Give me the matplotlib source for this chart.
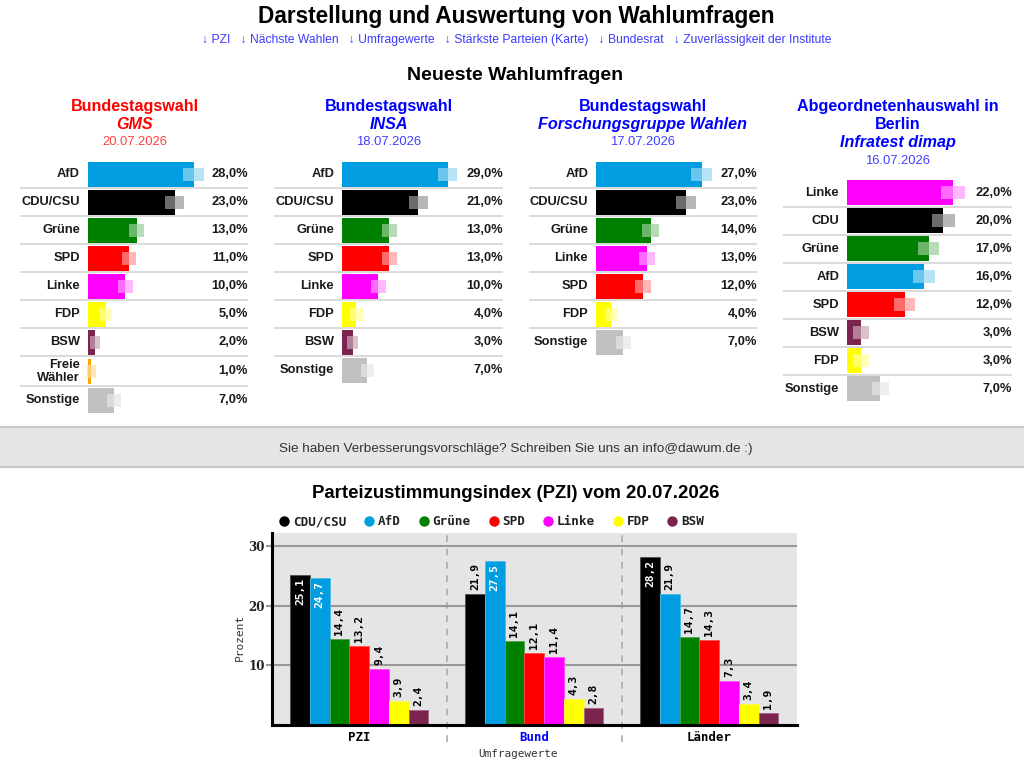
import numpy as np
import matplotlib
matplotlib.use('Agg')
import matplotlib.pyplot as plt
from matplotlib.colors import to_rgb
from matplotlib.lines import Line2D
from matplotlib.transforms import blended_transform_factory

# ---- data ----
party_colors = {
    'AfD': '#009ee0', 'CDU/CSU': '#000000', 'CDU': '#000000', 'Grüne': '#008000',
    'SPD': '#ff0000', 'Linke': '#ff00ff', 'FDP': '#ffff00', 'BSW': '#7b2450',
    'Freie\nWähler': '#ffa500', 'Sonstige': '#c0c0c0',
}

gms_parties = ['AfD', 'CDU/CSU', 'Grüne', 'SPD', 'Linke', 'FDP', 'BSW', 'Freie\nWähler', 'Sonstige']
gms_values = [28, 23, 13, 11, 10, 5, 2, 1, 7]
gms_margin = [2.8, 2.5, 2.0, 1.9, 2.0, 1.6, 1.4, 1.2, 1.8]

insa_parties = ['AfD', 'CDU/CSU', 'Grüne', 'SPD', 'Linke', 'FDP', 'BSW', 'Sonstige']
insa_values = [29, 21, 13, 13, 10, 4, 3, 7]
insa_margin = [2.6, 2.6, 2.0, 2.0, 2.0, 1.7, 1.5, 1.8]

fgw_parties = ['AfD', 'CDU/CSU', 'Grüne', 'Linke', 'SPD', 'FDP', 'Sonstige']
fgw_values = [27, 23, 14, 13, 12, 4, 7]
fgw_margin = [2.7, 2.6, 2.2, 2.0, 2.1, 1.7, 1.9]

berlin_parties = ['Linke', 'CDU', 'Grüne', 'AfD', 'SPD', 'BSW', 'FDP', 'Sonstige']
berlin_values = [22, 20, 17, 16, 12, 3, 3, 7]
berlin_margin = [2.5, 2.4, 2.25, 2.25, 2.1, 1.6, 1.6, 1.85]

pzi_groups = ['PZI', 'Bund', 'Länder']
pzi_parties = ['CDU/CSU', 'AfD', 'Grüne', 'SPD', 'Linke', 'FDP', 'BSW']
pzi_values = [
    [25.1, 21.9, 28.2],
    [24.7, 27.5, 21.9],
    [14.4, 14.1, 14.7],
    [13.2, 12.1, 14.3],
    [9.4, 11.4, 7.3],
    [3.9, 4.3, 3.4],
    [2.4, 2.8, 1.9],
]

links = ['PZI', 'Nächste Wahlen', 'Umfragewerte', 'Stärkste Parteien (Karte)',
         'Bundesrat', 'Zuverlässigkeit der Institute']

# ---- page geometry (pixels) ----
W, H = 1024, 766
SANS = ['Liberation Sans', 'DejaVu Sans']
MONO = ['DejaVu Sans Mono', 'DejaVu Sans']
SERIF = ['DejaVu Serif', 'DejaVu Sans']
ROW = 28
BAR = 25
GHOST = 13
MAXBAR = 106

fig = plt.figure(figsize=(W / 100, H / 100), dpi=100)
fig.patch.set_facecolor('white')


def px_axes(x0, y0, x1, y1):
    return fig.add_axes([x0 / W, 1 - y1 / H, (x1 - x0) / W, (y1 - y0) / H])


def ftext(x, y, s, **kw):
    kw.setdefault('family', SANS)
    return fig.text(x / W, 1 - y / H, s, **kw)


def lighten(c, f):
    r = np.array(to_rgb(c))
    return tuple(r * (1 - f) + f)


# background layer for the gray band
bg = fig.add_axes([0, 0, 1, 1], zorder=-5)
bg.set_xlim(0, W)
bg.set_ylim(H, 0)
bg.axis('off')
bg.axhspan(426.7, 466.7, color='#e6e6e6', lw=0)
bg.axhline(426.7, color='#c8c8c8', lw=1.6)
bg.axhline(466.7, color='#c8c8c8', lw=1.6)

# header
ftext(516, 23, 'Darstellung und Auswertung von Wahlumfragen', ha='center', va='baseline',
      fontsize=16.3, fontweight='bold', color='black')
ftext(517, 43, '   '.join('\u2193 ' + s for s in links), ha='center', va='baseline',
      fontsize=8.7, color='#3b3bff')
ftext(515.5, 80, 'Neueste Wahlumfragen', ha='center', va='baseline',
      fontsize=14, fontweight='bold', color='black')


def poll_panel(x0, xbar, x1, ytop, parties, values, margin, cx, title, color, datecolor):
    hts = np.array([1.07 if '\n' in p else 1.0 for p in parties])
    tops = np.concatenate([[0], np.cumsum(hts)[:-1]])
    centers = tops + hts / 2
    total = hts.sum()
    ax = px_axes(x0, ytop, x1, ytop + total * ROW)
    scale = MAXBAR / max(values)
    ax.set_xlim(-(xbar - x0) / scale, (x1 - xbar) / scale)
    ax.set_ylim(total, 0)
    ax.axis('off')
    cols = [party_colors[p] for p in parties]
    vals = np.array(values, float)
    mar = np.array(margin, float)
    ax.barh(centers, vals, height=BAR / ROW, color=cols, lw=0)
    ax.barh(centers, 2 * mar, left=vals - mar, height=GHOST / ROW,
            color=[lighten(c, 0.6) for c in cols], alpha=0.7, lw=0)
    for t in tops[1:]:
        ax.axhline(t, color='#dadada', lw=1.4)
    tr = blended_transform_factory(ax.transAxes, ax.transData)
    for p, v, c in zip(parties, values, centers):
        ax.annotate(p, (0, c), xytext=(-7.5, 0), textcoords='offset pixels',
                    ha='right', va='center', fontsize=9.3, fontweight='bold',
                    family=SANS, color='#1a1a1a', linespacing=1.05)
        ax.text(1.0, c, f'{v:.1f}%'.replace('.', ','), transform=tr,
                ha='right', va='center', fontsize=9.3, fontweight='bold',
                family=SANS, color='#1a1a1a')
    # titles
    for (s, y, style) in title:
        if style == 'bold':
            ftext(cx, y, s, ha='center', va='baseline', fontsize=11.6,
                  fontweight='bold', color=color)
        elif style == 'italic':
            ftext(cx, y, s, ha='center', va='baseline', fontsize=11.6,
                  fontweight='bold', style='italic', color=color)
        else:
            ftext(cx, y, s, ha='center', va='baseline', fontsize=9.4,
                  color=datecolor)


RED, BLUE = '#ff0000', '#0000ff'
poll_panel(20, 87.5, 248, 160.3, gms_parties, gms_values, gms_margin, 135,
           [('Bundestagswahl', 110.7, 'bold'), ('GMS', 129.3, 'italic'),
            ('20.07.2026', 145.3, 'date')], RED, '#ff4040')
poll_panel(274, 341.7, 503, 160.3, insa_parties, insa_values, insa_margin, 389,
           [('Bundestagswahl', 110.7, 'bold'), ('INSA', 129.3, 'italic'),
            ('18.07.2026', 145.3, 'date')], BLUE, '#4040ff')
poll_panel(529, 595.7, 757, 160.3, fgw_parties, fgw_values, fgw_margin, 643,
           [('Bundestagswahl', 110.7, 'bold'), ('Forschungsgruppe Wahlen', 129.3, 'italic'),
            ('17.07.2026', 145.3, 'date')], BLUE, '#4040ff')
poll_panel(783, 846.7, 1012, 178.7, berlin_parties, berlin_values, berlin_margin, 897.5,
           [('Abgeordnetenhauswahl in', 110.7, 'bold'), ('Berlin', 129, 'bold'),
            ('Infratest dimap', 147.5, 'italic'), ('16.07.2026', 164, 'date')],
           BLUE, '#4040ff')

# band text
ftext(515.7, 451.7, 'Sie haben Verbesserungsvorschläge? Schreiben Sie uns an info@dawum.de :)',
      ha='center', va='baseline', fontsize=9.7, color='#333333')

# ---- PZI chart ----
ftext(515.5, 498.3, 'Parteizustimmungsindex (PZI) vom 20.07.2026', ha='center',
      va='baseline', fontsize=13.4, fontweight='bold', color='black')

ax = px_axes(271.7, 533.3, 796.7, 724.5)
ax.set_facecolor('#e5e5e5')
ax.set_xlim(-0.5, 2.5)
ax.set_ylim(0, 32.2)
ax.set_axisbelow(True)
ax.yaxis.grid(True, color='#999999', lw=1.5)
ax.set_yticks([10, 20, 30])
ax.tick_params(axis='y', length=4.5, width=1.5, color='#999999', pad=0.5,
               labelsize=8.6, labelcolor='#222222')
for lab in ax.get_yticklabels():
    lab.set_family(SERIF)
    lab.set_fontweight('bold')
ax.set_xticks(range(len(pzi_groups)))
ax.set_xticklabels(pzi_groups, family=MONO, fontweight='bold', fontsize=8.9)
ax.tick_params(axis='x', length=0, pad=5)
ax.get_xticklabels()[1].set_color('#0000ff')
for s in ['top', 'right']:
    ax.spines[s].set_visible(False)
for s in ['left', 'bottom']:
    ax.spines[s].set_linewidth(2.2)
    ax.spines[s].set_color('black')

bw = 0.79 / len(pzi_parties)
x = np.arange(len(pzi_groups))
for i, (p, vals) in enumerate(zip(pzi_parties, pzi_values)):
    xs = x - 0.395 + bw * (i + 0.5)
    ax.bar(xs, vals, width=bw, color=party_colors[p],
           edgecolor=lighten(party_colors[p], 0.3), lw=0.6)
    for xi, v in zip(xs, vals):
        lab = f'{v:.1f}'.replace('.', ',')
        if v > 23:
            ax.annotate(lab, (xi, v), xytext=(0, -3), textcoords='offset pixels',
                        rotation=90, ha='center', va='top', color='white',
                        family=MONO, fontweight='bold', fontsize=8.1)
        else:
            ax.annotate(lab, (xi, v), xytext=(0, 4), textcoords='offset pixels',
                        rotation=90, ha='center', va='bottom', color='black',
                        family=MONO, fontweight='bold', fontsize=8.1)

for xd in [0.5, 1.5]:
    ax.axvline(xd, ymin=-0.09, ymax=1, color='#aaaaaa', lw=1.2,
               ls=(0, (4, 4)), clip_on=False, zorder=0.5)

ftext(518, 754, 'Umfragewerte', ha='center', va='center', family=MONO,
      fontsize=7.9, color='#333333')
ftext(240, 637.3, 'Prozent', ha='center', va='center', family=MONO,
      fontsize=8, color='#333333', rotation=90)

handles = [Line2D([], [], ls='none', marker='o', markersize=7.5,
                  markerfacecolor=party_colors[p], markeredgewidth=0) for p in pzi_parties]
fig.legend(handles, pzi_parties, loc='center', bbox_to_anchor=(492 / W, 1 - 521.7 / H),
           ncol=len(pzi_parties), frameon=False, handlelength=0.7, handletextpad=0.35,
           columnspacing=1.45, prop={'family': MONO, 'weight': 'bold', 'size': 9.1},
           labelcolor='#222222', borderpad=0, borderaxespad=0)

fig.savefig('out.png', dpi=100, facecolor='white')
